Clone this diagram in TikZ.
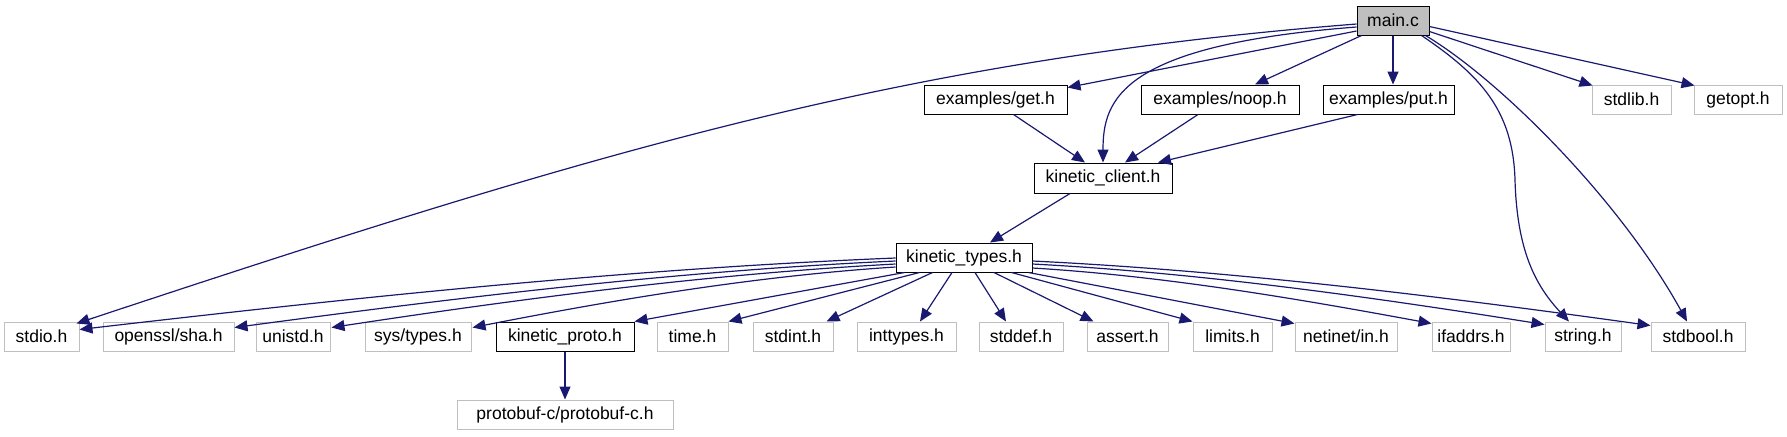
\documentclass[tikz,border=0pt]{standalone}
\usepackage{fontspec}
\setmainfont{Liberation Sans}
\usetikzlibrary{arrows.meta,calc}
\definecolor{edgec}{HTML}{191970}
\definecolor{greyc}{HTML}{BFBFBF}
\newcommand{\hnode}[7]{\node[#1, minimum width={(#5-#3)*0.5pt}, minimum height={(#6-#4)*0.5pt}] (#2) at ({(#3+#5)/2},{(#4+#6)/2}) {#7};}
\tikzset{
  box/.style={draw=black, line width=0.5pt, inner sep=0pt, fill=white, text=black, font=\fontsize{8.75pt}{10pt}\selectfont},
  sys/.style={box, draw=greyc},
  cur/.style={box, fill=greyc},
  edge/.style={draw=edgec, line width=0.6pt, -{Triangle[length=6.5pt,width=5.5pt]}}
}
\begin{document}
\begin{tikzpicture}[x=0.5pt,y=-0.5pt]
\useasboundingbox (0,0) rectangle (1787,436);
% top
\hnode{cur}{main}{1357}{6}{1429}{35}{main.c}
\hnode{box}{get}{924}{85}{1067}{114}{examples/get.h}
\hnode{box}{noop}{1141}{85}{1299}{114}{examples/noop.h}
\hnode{box}{put}{1323}{85}{1454}{114}{examples/put.h}
\hnode{sys}{stdlib}{1592}{85}{1671}{114}{stdlib.h}
\hnode{sys}{getopt}{1694}{85}{1782}{114}{getopt.h}
\hnode{box}{kclient}{1034}{163}{1172}{193}{kinetic\_client.h}
\hnode{box}{ktypes}{896}{243}{1032}{272}{kinetic\_types.h}
% bottom row
\hnode{sys}{stdio}{4}{322}{79}{351}{stdio.h}
\hnode{sys}{openssl}{103}{322}{234}{351}{openssl/sha.h}
\hnode{sys}{unistd}{256}{322}{330}{351}{unistd.h}
\hnode{sys}{systypes}{365}{322}{471}{351}{sys/types.h}
\hnode{box}{kproto}{496}{322}{634}{351}{kinetic\_proto.h}
\hnode{sys}{time}{657}{322}{728}{351}{time.h}
\hnode{sys}{stdint}{753}{322}{833}{351}{stdint.h}
\hnode{sys}{inttypes}{857}{322}{956}{351}{inttypes.h}
\hnode{sys}{stddef}{979}{322}{1063}{351}{stddef.h}
\hnode{sys}{assert}{1087}{322}{1168}{351}{assert.h}
\hnode{sys}{limits}{1193}{322}{1272}{351}{limits.h}
\hnode{sys}{netinet}{1295}{322}{1397}{351}{netinet/in.h}
\hnode{sys}{ifaddrs}{1432}{322}{1510}{351}{ifaddrs.h}
\hnode{sys}{string}{1545}{322}{1621}{351}{string.h}
\hnode{sys}{stdbool}{1651}{322}{1745}{351}{stdbool.h}
\hnode{sys}{protobuf}{457}{400}{673}{429}{protobuf-c/protobuf-c.h}
% edges from main.c
\draw[edge] ($(main.west)+(0,3.5)$) .. controls (900,60) and (600,150) .. ($(stdio.north east)+(-3,2)$);
\draw[edge] ($(main.west)+(0,6.5)$) .. controls (1120,45) and (1103,100) .. (kclient.north);
\draw[edge] ($(main.west)+(0,10.5)$) -- ($(get.north east)+(0,3)$);
\draw[edge] ($(main.south west)+(5,0)$) -- ($(noop.north)+(35,0)$);
\draw[edge] (main.south) -- (main.south |- put.north);
\draw[edge] ($(main.south east)+(-8,0)$) .. controls (1480,75) and (1513,110) .. (1515,180) .. controls (1517,250) and (1535,285) .. ($(string.north)+(-14,0)$);
\draw[edge] ($(main.south east)+(-4,0)$) .. controls (1500,80) and (1620,200) .. ($(stdbool.north)+(-11,0)$);
\draw[edge] ($(main.east)+(0,11)$) -- ($(stdlib.north west)+(1,1)$);
\draw[edge] ($(main.east)+(0,6)$) -- ($(getopt.north west)+(1,1)$);
% to kinetic_client
\draw[edge] ($(get.south)+(18,0)$) -- ($(kclient.north)+(-18,0)$);
\draw[edge] ($(noop.south)+(-22,0)$) -- ($(kclient.north)+(22,0)$);
\draw[edge] ($(put.south)+(-31,0)$) -- ($(kclient.north)+(55,0)$);
\draw[edge] ($(kclient.south)+(-33,0)$) -- ($(ktypes.north)+(26,0)$);
% from kinetic_types
\draw[edge] ($(ktypes.west)+(0,0.5)$) .. controls (624,269) and (351,298) .. ($(stdio.north east)+(0,8)$);
\draw[edge] ($(ktypes.west)+(0,3.5)$) .. controls (675,271) and (455,298) .. ($(openssl.north east)+(0,6)$);
\draw[edge] ($(ktypes.west)+(0,6.5)$) .. controls (708,274) and (519,299) .. ($(unistd.north east)+(1,6)$);
\draw[edge] ($(ktypes.west)+(0,9.5)$) .. controls (755,276) and (613,300) .. ($(systypes.north east)+(1,6)$);
\draw[edge] ($(ktypes.south west)+(9,0)$) -- (kproto.north east);
\draw[edge] ($(ktypes.south west)+(24,0)$) -- (time.north east);
\draw[edge] ($(ktypes.south west)+(37,0)$) -- ($(stdint.north east)+(-7,0)$);
\draw[edge] ($(ktypes.south)+(-12,0)$) -- ($(inttypes.north)+(13.5,0)$);
\draw[edge] ($(ktypes.south)+(11,0)$) -- ($(stddef.north)+(-15,0)$);
\draw[edge] ($(ktypes.south)+(30,0)$) -- ($(assert.north west)+(7,0)$);
\draw[edge] ($(ktypes.south east)+(-21,0)$) -- (limits.north west);
\draw[edge] ($(ktypes.south east)+(-4,0)$) -- ($(netinet.north west)+(0,2)$);
\draw[edge] ($(ktypes.east)+(0,10.5)$) .. controls (1165,276) and (1299,299) .. ($(ifaddrs.north west)+(0,2)$);
\draw[edge] ($(ktypes.east)+(0,6.5)$) .. controls (1203,273) and (1374,297.5) .. ($(string.north west)+(0,3)$);
\draw[edge] ($(ktypes.east)+(0,3.5)$) .. controls (1238,271) and (1445,297) .. ($(stdbool.north west)+(0,4)$);
\draw[edge] (kproto) -- (protobuf);
\end{tikzpicture}
\end{document}
